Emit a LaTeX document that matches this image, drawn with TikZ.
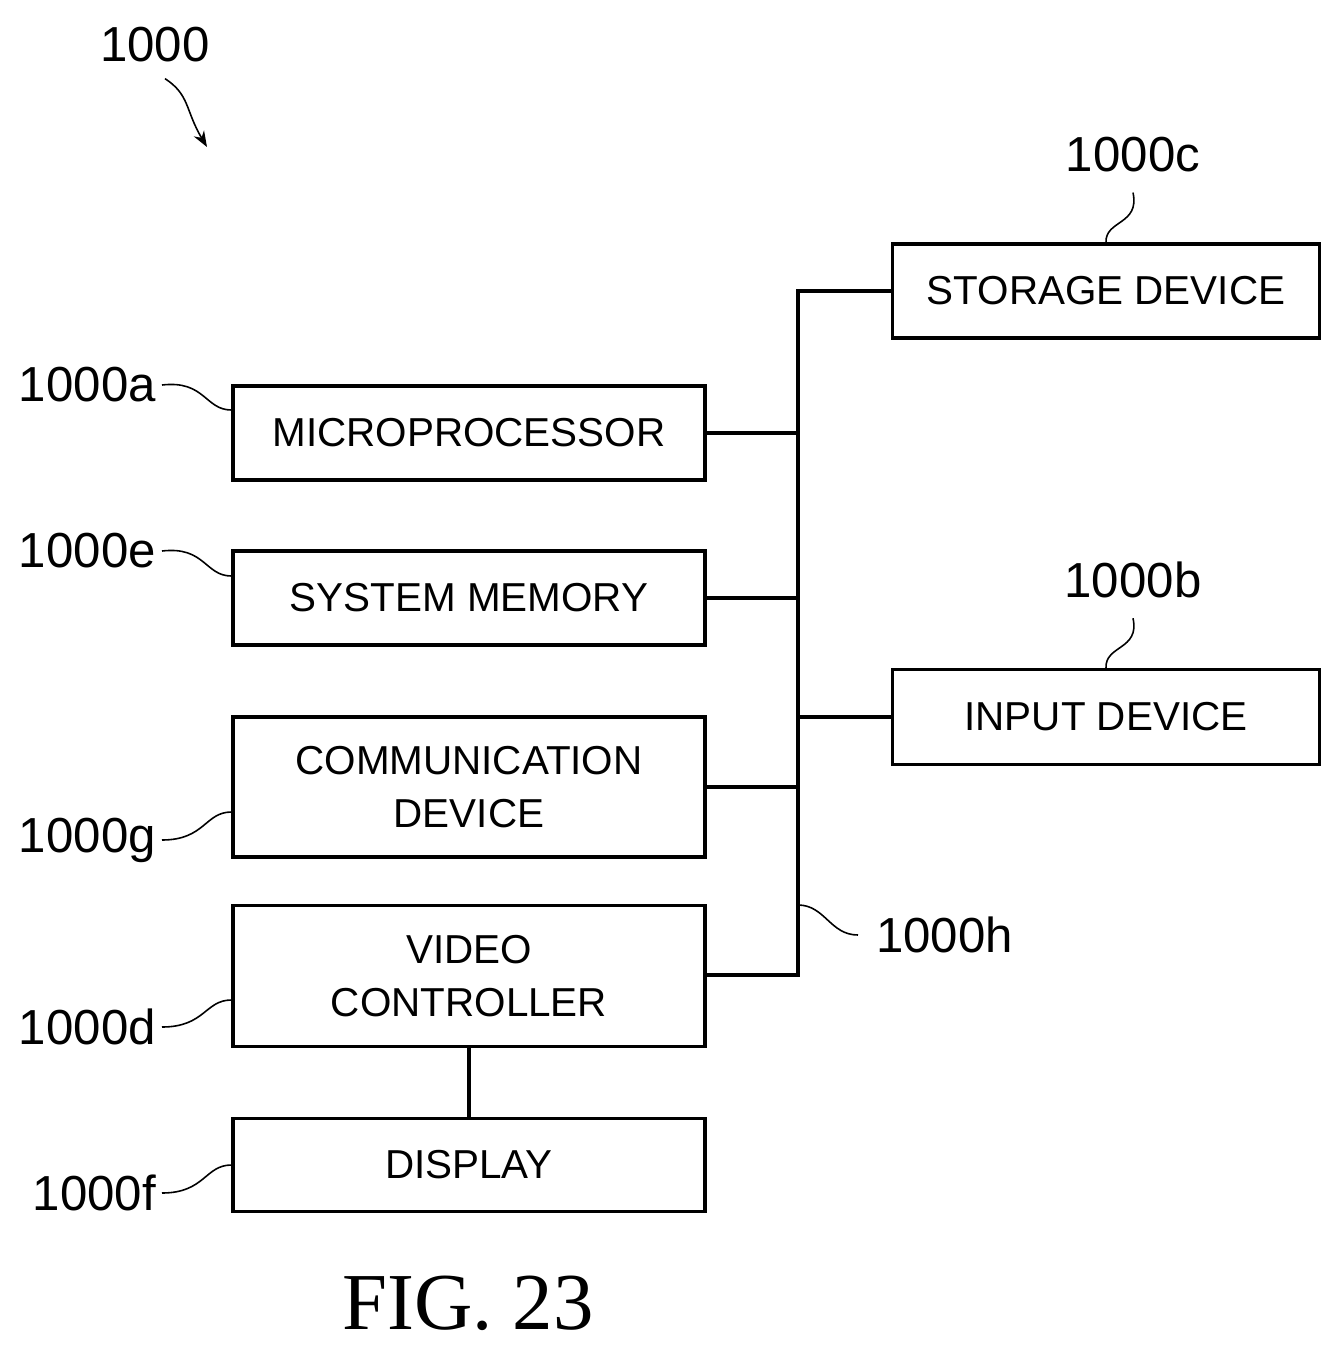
\documentclass[tikz,border=0pt]{standalone}
\usepackage{fontspec}
\setmainfont{Liberation Sans}
\newfontfamily\figfont{Liberation Serif}
\usetikzlibrary{positioning,arrows.meta}
\begin{document}
\begin{tikzpicture}[x=0.02cm,y=-0.02cm,
  box/.style={draw,line width=1.8pt,minimum width=472*0.02cm,align=center,font=\fontsize{23}{30}\selectfont},
  rbox/.style={box,minimum width=427*0.02cm},
  lbl/.style={font=\fontsize{28}{30}\selectfont},
  lead/.style={line width=0.9pt}]
\useasboundingbox (0,0) rectangle (1342,1353);

% boxes
\node[box,minimum height=94*0.02cm] (micro) at (469,433) {MICROPROCESSOR};
\node[box,minimum height=94*0.02cm] (mem) at (469,598) {SYSTEM MEMORY};
\node[box,minimum height=140*0.02cm] (comm) at (469,787) {COMMUNICATION\\DEVICE};
\node[box,minimum height=141*0.02cm] (video) at (469,976) {VIDEO\\CONTROLLER};
\node[box,minimum height=93*0.02cm] (disp) at (469,1165) {DISPLAY};
\node[rbox,minimum height=94*0.02cm] (store) at (1106,291) {STORAGE DEVICE};
\node[rbox,minimum height=95*0.02cm] (input) at (1106,717) {INPUT DEVICE};

% bus
\coordinate (btop) at (798,291);
\coordinate (bbot) at (798,975);
\draw[line width=1.8pt] (store.west) -- (btop) -- (bbot) -- (video.east |- bbot);
\draw[line width=1.8pt] (micro.east) -- (micro.east -| btop);
\draw[line width=1.8pt] (mem.east) -- (mem.east -| btop);
\draw[line width=1.8pt] (comm.east) -- (comm.east -| btop);
\draw[line width=1.8pt] (input.west) -- (input.west -| btop);
\draw[line width=1.8pt] (video.south) -- (disp.north);

% labels
\node[lbl] (l1000) at (155,45) {1000};
\node[lbl,anchor=east] (la) at (162,385) {1000a};
\node[lbl,anchor=east] (le) at (162,551) {1000e};
\node[lbl,anchor=east] (lg) at (162,840) {1000g};
\node[lbl,anchor=east] (ld) at (162,1027) {1000d};
\node[lbl,anchor=east] (lf) at (162,1193) {1000f};
\node[lbl] (lc) at (1133,155) {1000c};
\node[lbl] (lb) at (1133,580) {1000b};
\node[lbl,anchor=west] (lh) at (870,935) {1000h};
\node[font=\figfont\fontsize{46}{50}\selectfont] (fig) at (468,1303) {FIG. 23};

% leaders
\draw[lead,-{Stealth[length=9pt]}] (l1000.south) ++(10,10) .. controls (190,95) and (185,110) .. (207,147);
\draw[lead] (la.east) .. controls (205,380) and (205,410) .. (micro.west |- 0,410);
\draw[lead] (le.east) .. controls (205,546) and (205,576) .. (mem.west |- 0,576);
\draw[lead] (lg.east) .. controls (205,840) and (205,812) .. (comm.west |- 0,812);
\draw[lead] (ld.east) .. controls (205,1027) and (205,1000) .. (video.west |- 0,1000);
\draw[lead] (lf.east) .. controls (205,1193) and (205,1165) .. (disp.west |- 0,1165);
\draw[lead] (lc.south) ++(0,14) .. controls (1140,225) and (1105,220) .. (store.north -| 1106,0);
\draw[lead] (lb.south) ++(0,14) .. controls (1140,650) and (1105,645) .. (input.north -| 1106,0);
\draw[lead] (lh.west) ++(-12,0) .. controls (830,935) and (825,905) .. (bbot |- 0,905);
\end{tikzpicture}
\end{document}
